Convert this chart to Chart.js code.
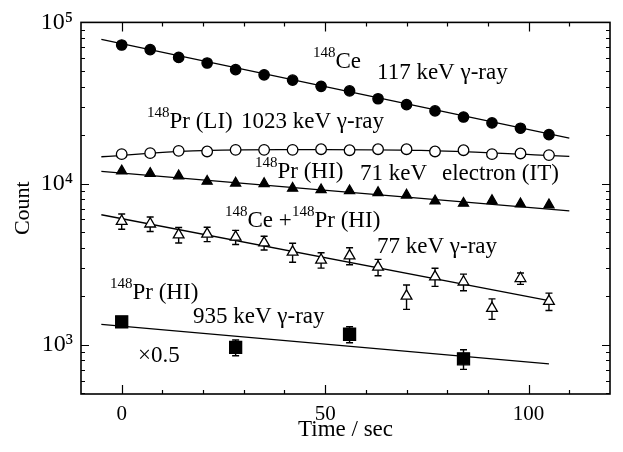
<!DOCTYPE html>
<html><head><meta charset="utf-8">
<script src="https://cdn.jsdelivr.net/npm/chart.js@4.4.1/dist/chart.umd.min.js"></script>
<style>html,body{margin:0;padding:0;background:#fff}</style>
</head><body>
<canvas id="c" width="623" height="452"></canvas>
<script>
// ---------- data ----------
const times = [0, 7, 14, 21, 28, 35, 42, 49, 56, 63, 70, 77, 84, 91, 98, 105];
const ce117 = [72400, 67800, 60600, 56000, 50960, 47300, 43850, 40150, 37580, 33600, 30900, 28250, 25880, 23780, 22050, 20100];
const prLI1023 = [15230, 15450, 15960, 15830, 16190, 16190, 16190, 16340, 16110, 16340, 16340, 15830, 16110, 15230, 15380, 15020];
const prHI71 = [11970, 11550, 11160, 10330, 10070, 10000, 9350, 9150, 9025, 8780, 8485, 7800, 7550, 7840, 7480, 7380];
const cePrHI77 = [5843, 5623, 4808, 4864, 4656, 4290, 3758, 3357, 3565, 3034, 2004, 2642, 2455, 1682, 2580, 1862];
const cePrHI77Err = [630, 580, 530, 500, 470, 420, 510, 370, 430, 355, 345, 340, 290, 245, 210, 230];
const sqTimes = [0, 28, 56, 84];
const prHI935 = [1387, 963, 1162, 818];
const prHI935Err = [45, 108, 132, 114];

// fitted curves
const ceFitT = [-5, 110];       const ceFit = [78430, 19150];
const liFitT = [-5, 17.5, 45.5, 73.5, 101.5, 110]; const liFit = [14670, 15960, 16250, 16050, 15080, 14740];
const hiFitT = [-5, 110];       const hiFit = [11890, 6780];
const cePrFitT = [-5, 105];     const cePrFit = [6407, 1881];
const sqFitT = [-5, 105];       const sqFit = [1337, 762];

const xLabels = [0, 50, 100];
const yLabels = {1000: '10³', 10000: '10⁴', 100000: '10⁵'};

// ---------- helpers ----------
const FONT = '"Liberation Serif", "Times New Roman", serif';
const pts = (xs, ys) => xs.map((x, i) => ({x, y: ys[i]}));

const markerSet = (label, xs, ys, style, r, fill) => ({
  label, data: pts(xs, ys), pointStyle: style, pointRadius: r, pointHoverRadius: r,
  backgroundColor: fill, borderColor: '#000', borderWidth: 1.3, showLine: false, order: 0
});
const fitSet = (label, xs, ys, tension) => ({
  type: 'line', label, data: pts(xs, ys), showLine: true, pointRadius: 0, fill: false,
  borderColor: '#000', borderWidth: 1.3, tension: tension || 0, order: 1
});

const errorSets = [
  {t: times, v: cePrHI77, e: cePrHI77Err},
  {t: sqTimes, v: prHI935, e: prHI935Err}
];

// annotation texts: [left px, baseline px, parts [text, isSuperscript]]
const notes = [
  [313, 68, [['148', 1], ['Ce', 0]]],
  [377, 79, [['117 keV γ-ray', 0]]],
  [147, 128, [['148', 1], ['Pr (LI)', 0]]],
  [241, 128, [['1023 keV γ-ray', 0]]],
  [255, 178, [['148', 1], ['Pr (HI)', 0]]],
  [360, 180, [['71 keV', 0]]],
  [442, 180, [['electron (IT)', 0]]],
  [225, 227, [['148', 1], ['Ce +', 0]]],
  [292, 227, [['148', 1], ['Pr (HI)', 0]]],
  [377, 253, [['77 keV γ-ray', 0]]],
  [110, 299, [['148', 1], ['Pr (HI)', 0]]],
  [193, 323, [['935 keV γ-ray', 0]]],
  [138, 362, [['×0.5', 0]]]
];

const errorBarPlugin = {
  id: 'errorBars',
  beforeDatasetsDraw(chart) {
    const {ctx, scales: {x, y}} = chart;
    ctx.save();
    ctx.strokeStyle = '#000'; ctx.lineWidth = 1.4;
    errorSets.forEach(s => s.t.forEach((t, i) => {
      const px = x.getPixelForValue(t);
      const y1 = y.getPixelForValue(s.v[i] + s.e[i]);
      const y2 = y.getPixelForValue(s.v[i] - s.e[i]);
      ctx.beginPath();
      ctx.moveTo(px, y1); ctx.lineTo(px, y2);
      ctx.moveTo(px - 3.5, y1); ctx.lineTo(px + 3.5, y1);
      ctx.moveTo(px - 3.5, y2); ctx.lineTo(px + 3.5, y2);
      ctx.stroke();
    }));
    ctx.restore();
  }
};

const framePlugin = {
  id: 'frame',
  afterDraw(chart) {
    const {ctx, chartArea: a, scales: {x, y}} = chart;
    ctx.save();
    ctx.strokeStyle = '#000'; ctx.lineWidth = 1.6;
    ctx.strokeRect(a.left, a.top, a.right - a.left, a.bottom - a.top);
    ctx.lineWidth = 1.2;
    ctx.beginPath();
    for (let v = x.min + 10; v < x.max; v += 10) {
      const px = Math.round(x.getPixelForValue(v)) + 0.5;
      const len = v % 50 === 0 ? 9 : 4;
      ctx.moveTo(px, a.bottom); ctx.lineTo(px, a.bottom - len);
      ctx.moveTo(px, a.top); ctx.lineTo(px, a.top + len);
    }
    [100, 1000, 10000].forEach(d => {
      for (let m = 1; m <= 9; m++) {
        const v = m * d;
        if (v <= y.min || v >= y.max) continue;
        const py = Math.round(y.getPixelForValue(v)) + 0.5;
        const len = m === 1 ? 8 : 4;
        ctx.moveTo(a.left, py); ctx.lineTo(a.left + len, py);
        ctx.moveTo(a.right, py); ctx.lineTo(a.right - len, py);
      }
    });
    ctx.stroke();

    // annotations
    ctx.fillStyle = '#000';
    ctx.textBaseline = 'alphabetic';
    ctx.textAlign = 'left';
    notes.forEach(([nx, ny, parts]) => {
      let cx = nx;
      parts.forEach(([t, sup]) => {
        ctx.font = (sup ? '15px ' : '23px ') + FONT;
        ctx.fillText(t, cx, sup ? ny - 11 : ny);
        cx += ctx.measureText(t).width;
      });
    });
    ctx.restore();
  }
};

new Chart(document.getElementById('c'), {
  type: 'scatter',
  data: {
    datasets: [
      markerSet('148Ce 117 keV γ-ray', times, ce117, 'circle', 5.2, '#000'),
      markerSet('148Pr (LI) 1023 keV γ-ray', times, prLI1023, 'circle', 5.3, '#fff'),
      markerSet('148Pr (HI) 71 keV electron (IT)', times, prHI71, 'triangle', 5.8, '#000'),
      markerSet('148Ce + 148Pr (HI) 77 keV γ-ray', times, cePrHI77, 'triangle', 6.2, '#fff'),
      markerSet('148Pr (HI) 935 keV γ-ray ×0.5', sqTimes, prHI935, 'rect', 8.5, '#000'),
      fitSet('fit 117', ceFitT, ceFit),
      fitSet('fit 1023', liFitT, liFit, 0.4),
      fitSet('fit 71', hiFitT, hiFit),
      fitSet('fit 77', cePrFitT, cePrFit),
      fitSet('fit 935', sqFitT, sqFit)
    ]
  },
  options: {
    responsive: false, animation: false, devicePixelRatio: 1,
    layout: {padding: {left: 0, top: 16, right: 13, bottom: 0}},
    plugins: {legend: {display: false}, tooltip: {enabled: false}},
    scales: {
      x: {
        type: 'linear', min: -10, max: 120,
        afterFit(s) { s.height = 58; },
        grid: {display: false, drawTicks: false}, border: {display: false},
        ticks: {stepSize: 10, autoSkip: false, maxRotation: 0, padding: 8, color: '#000',
          font: {family: FONT, size: 21},
          callback: v => xLabels.includes(v) ? String(v) : ''},
        title: {display: true, text: 'Time / sec', color: '#000',
          font: {family: FONT, size: 23}, padding: {top: 8, bottom: 8}}
      },
      y: {
        type: 'logarithmic', min: 495, max: 100000,
        afterFit(s) { s.width = 81; },
        grid: {display: false, drawTicks: false}, border: {display: false},
        ticks: {autoSkip: false, padding: 8, color: '#000',
          font: {family: FONT, size: 24},
          callback: v => yLabels[v] || ''},
        title: {display: true, text: 'Count', color: '#000',
          font: {family: FONT, size: 22}, padding: {top: 10, bottom: 10}}
      }
    }
  },
  plugins: [errorBarPlugin, framePlugin]
});
</script>
</body></html>
